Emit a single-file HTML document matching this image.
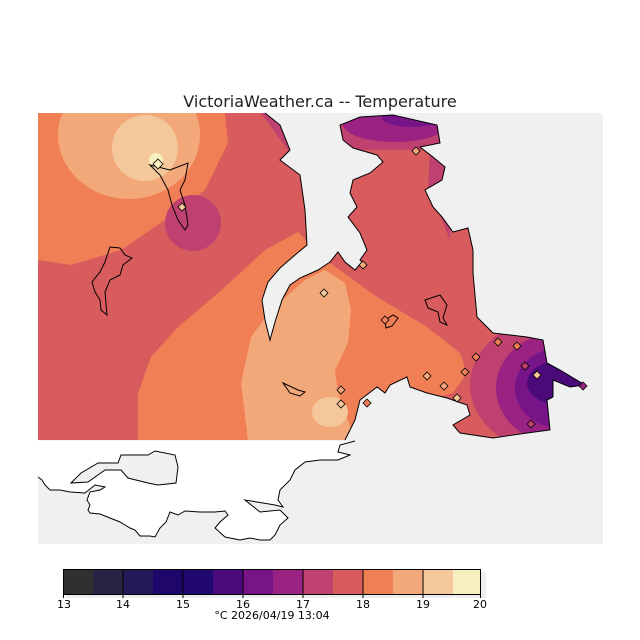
<!DOCTYPE html>
<html><head><meta charset="utf-8"><style>
html,body{margin:0;padding:0;background:#fff;}
svg{display:block;font-family:"DejaVu Sans","Liberation Sans",sans-serif;}
</style></head><body>
<svg width="640" height="640" viewBox="0 0 640 640" xmlns="http://www.w3.org/2000/svg">
<defs>
<clipPath id="land"><path d="M38,113 L265,113 L280,125 L290,150 L280,160 L300,175 L305,210 L307,245 L295,255 L280,268 L268,282 L262,300 L265,320 L270,340 L275,322 L282,300 L290,285 L300,278 L318,270 L330,262 L338,252 L345,262 L355,270 L362,262 L360,260 L367,250 L360,233 L348,217 L357,207 L350,193 L353,180 L370,173 L383,162 L377,155 L353,148 L343,140 L340,125 L360,117 L393,115 L437,125 L440,143 L420,147 L433,157 L445,167 L442,180 L425,190 L433,207 L442,217 L453,232 L468,228 L473,250 L473,273 L477,317 L493,333 L527,337 L543,340 L547,363 L560,370 L585,385 L570,387 L553,380 L553,397 L547,400 L550,430 L527,433 L493,438 L460,433 L453,425 L470,415 L467,405 L447,398 L427,393 L410,387 L407,377 L390,385 L385,393 L377,387 L360,400 L355,420 L345,440 L38,440 Z"/></clipPath>
</defs>
<rect x="38" y="113" width="565" height="431" fill="#f0f0f0"/>
<g clip-path="url(#land)">
<rect x="38" y="113" width="565" height="331" fill="#d85b5d"/>
<path d="M38,113 L225,113 L228,143 L205,190 L165,220 L121,250 L71,265 L38,260 Z" fill="#f07f55"/>
<ellipse cx="129" cy="135" rx="71" ry="64" fill="#f3a87a"/>
<circle cx="145" cy="148" r="33" fill="#f5c89b"/>
<circle cx="156" cy="160" r="7" fill="#f6efc0"/>
<circle cx="193" cy="223" r="28" fill="#bf416f"/>
<path d="M261,113 L295,113 L295,160 Z" fill="#bf416f"/>
<path d="M138,440 L138,393 L151,357 L178,327 L225,287 L265,250 L298,232 L323,258 L377,297 L427,327 L460,353 L467,373 L453,393 L420,402 L400,400 L370,400 L355,440 Z" fill="#f07f55"/>
<path d="M248,440 L241,383 L251,337 L271,310 L305,280 L325,270 L345,283 L351,310 L348,343 L335,370 L338,393 L355,440 Z" fill="#f3a87a"/>
<ellipse cx="330" cy="412" rx="18" ry="15" fill="#f5c89b"/>
<path d="M330,113 L450,113 L445,140 L420,150 L380,150 L340,150 Z" fill="#bf416f"/>
<ellipse cx="395" cy="124" rx="52" ry="18" fill="#9a2283"/>
<ellipse cx="412" cy="118" rx="30" ry="9" fill="#761488"/>
<ellipse cx="420" cy="115" rx="15" ry="4" fill="#4a0a7a"/>
<path d="M430,150 L450,150 L450,240 L440,215 L428,190 Z" fill="#bf416f"/>
<ellipse cx="560" cy="385" rx="90" ry="70" fill="#bf416f"/>
<ellipse cx="560" cy="388" rx="64" ry="56" fill="#9a2283"/>
<ellipse cx="560" cy="388" rx="45" ry="40" fill="#761488"/>
<ellipse cx="560" cy="383" rx="33" ry="22" fill="#4a0a7a"/>
</g>
<path d="M265,113 L280,125 L290,150 L280,160 L300,175 L305,210 L307,245 L295,255 L280,268 L268,282 L262,300 L265,320 L270,340 L275,322 L282,300 L290,285 L300,278 L318,270 L330,262 L338,252 L345,262 L355,270 L362,262 L360,260 L367,250 L360,233 L348,217 L357,207 L350,193 L353,180 L370,173 L383,162 L377,155 L353,148 L343,140 L340,125 L360,117 L393,115 L437,125 L440,143 L420,147 L433,157 L445,167 L442,180 L425,190 L433,207 L442,217 L453,232 L468,228 L473,250 L473,273 L477,317 L493,333 L527,337 L543,340 L547,363 L560,370 L585,385 L570,387 L553,380 L553,397 L547,400 L550,430 L527,433 L493,438 L460,433 L453,425 L470,415 L467,405 L447,398 L427,393 L410,387 L407,377 L390,385 L385,393 L377,387 L360,400 L355,420 L345,440" fill="none" stroke="#000" stroke-width="1"/>
<path d="M38,441 L355,441 L340,445 L338,452 L350,455 L338,460 L320,460 L305,462 L295,470 L290,480 L280,490 L278,500 L283,507 L275,505 L245,500 L260,512 L280,510 L288,518 L280,525 L275,535 L270,540 L260,540 L250,538 L240,540 L225,537 L215,528 L220,522 L228,515 L225,511 L215,512 L200,512 L185,511 L178,515 L170,512 L166,522 L160,528 L155,537 L150,536 L140,536 L135,530 L130,528 L120,522 L110,518 L100,514 L90,513 L88,510 L90,505 L87,500 L90,492 L100,490 L105,487 L95,485 L85,493 L70,492 L60,490 L50,490 L45,485 L42,480 L38,477 Z" fill="#fff" stroke="none"/>
<path d="M355,441 L340,445 L338,452 L350,455 L338,460 L320,460 L305,462 L295,470 L290,480 L280,490 L278,500 L283,507 L275,505 L245,500 L260,512 L280,510 L288,518 L280,525 L275,535 L270,540 L260,540 L250,538 L240,540 L225,537 L215,528 L220,522 L228,515 L225,511 L215,512 L200,512 L185,511 L178,515 L170,512 L166,522 L160,528 L155,537 L150,536 L140,536 L135,530 L130,528 L120,522 L110,518 L100,514 L90,513 L88,510 L90,505 L87,500 L90,492 L100,490 L105,487 L95,485 L85,493 L70,492 L60,490 L50,490 L45,485 L42,480 L38,477" fill="none" stroke="#000"/>
<path d="M71,483 L81,473 L98,463 L118,463 L121,455 L148,455 L155,451 L175,455 L178,467 L176,483 L158,485 L148,483 L128,478 L121,470 L105,470 L88,482 Z" fill="#f0f0f0" stroke="#000"/>
<path d="M110,247 L120,248 L125,255 L132,258 L123,265 L120,275 L110,280 L105,292 L107,315 L101,310 L100,300 L95,292 L92,282 L100,272 L105,262 Z" fill="none" stroke="#000"/>
<path d="M283,383 L298,390 L305,392 L300,396 L290,393 Z" fill="none" stroke="#000"/>
<path d="M150,165 L170,170 L188,163 L185,180 L180,190 L185,205 L188,225 L185,230 L178,220 L172,205 L168,190 L160,175 Z" fill="none" stroke="#000"/>
<path d="M425,300 L440,295 L447,305 L443,318 L447,325 L440,322 L438,312 L428,308 Z" fill="none" stroke="#000"/>
<path d="M385,320 L393,315 L398,318 L392,326 L386,328 Z" fill="none" stroke="#000"/>
<g stroke="#000" stroke-width="0.8">
<path d="M158,159 l5,5 -5,5 -5,-5z" fill="#f6efc0"/>
<path d="M182,203 l4,4 -4,4 -4,-4z" fill="#f5c89b"/>
<path d="M416,147 l4,4 -4,4 -4,-4z" fill="#f3a87a"/>
<path d="M363,261 l4,4 -4,4 -4,-4z" fill="#f3a87a"/>
<path d="M324,289 l4,4 -4,4 -4,-4z" fill="#f5c89b"/>
<path d="M385,316 l4,4 -4,4 -4,-4z" fill="#f07f55"/>
<path d="M476,353 l4,4 -4,4 -4,-4z" fill="#f07f55"/>
<path d="M498,338 l4,4 -4,4 -4,-4z" fill="#f07f55"/>
<path d="M517,342 l4,4 -4,4 -4,-4z" fill="#f07f55"/>
<path d="M525,362 l4,4 -4,4 -4,-4z" fill="#bf416f"/>
<path d="M537,371 l4,4 -4,4 -4,-4z" fill="#f5c89b"/>
<path d="M583,382 l4,4 -4,4 -4,-4z" fill="#9a2283"/>
<path d="M465,368 l4,4 -4,4 -4,-4z" fill="#f07f55"/>
<path d="M427,372 l4,4 -4,4 -4,-4z" fill="#f3a87a"/>
<path d="M444,382 l4,4 -4,4 -4,-4z" fill="#f3a87a"/>
<path d="M457,394 l4,4 -4,4 -4,-4z" fill="#f5c89b"/>
<path d="M367,399 l4,4 -4,4 -4,-4z" fill="#f07f55"/>
<path d="M341,386 l4,4 -4,4 -4,-4z" fill="#f3a87a"/>
<path d="M341,400 l4,4 -4,4 -4,-4z" fill="#f5c89b"/>
<path d="M531,420 l4,4 -4,4 -4,-4z" fill="#bf416f"/>
</g>
<text x="320" y="107" font-size="16" text-anchor="middle" fill="#222">VictoriaWeather.ca -- Temperature</text>
<rect x="66" y="572" width="420" height="26" fill="#eee"/>
<g stroke="none">
<rect x="63" y="569" width="30" height="26" fill="#303030"/>
<rect x="93" y="569" width="30" height="26" fill="#2a2444"/>
<rect x="123" y="569" width="30" height="26" fill="#251a58"/>
<rect x="153" y="569" width="30" height="26" fill="#1e066a"/>
<rect x="183" y="569" width="30" height="26" fill="#200870"/>
<rect x="213" y="569" width="30" height="26" fill="#4a0a7a"/>
<rect x="243" y="569" width="30" height="26" fill="#761488"/>
<rect x="273" y="569" width="30" height="26" fill="#9a2283"/>
<rect x="303" y="569" width="30" height="26" fill="#bf416f"/>
<rect x="333" y="569" width="30" height="26" fill="#d85b5d"/>
<rect x="363" y="569" width="30" height="26" fill="#f07f55"/>
<rect x="393" y="569" width="30" height="26" fill="#f3a87a"/>
<rect x="423" y="569" width="30" height="26" fill="#f5c89b"/>
<rect x="453" y="569" width="28" height="26" fill="#f6efc0"/>
</g>
<rect x="63.5" y="569.5" width="417" height="25" fill="none" stroke="#000"/>
<g stroke="#000">
<path d="M123,569V598M183,569V598M243,569V598M303,569V598M363,569V598M423,569V598M63.5,594V598M480.5,594V598"/>
</g>
<g font-size="11" text-anchor="middle" fill="#000">
<text x="64" y="608">13</text><text x="123" y="608">14</text><text x="183" y="608">15</text><text x="243" y="608">16</text><text x="303" y="608">17</text><text x="363" y="608">18</text><text x="423" y="608">19</text><text x="480" y="608">20</text>
<text x="272" y="619">°C  2026/04/19 13:04</text>
</g>
</svg>
</body></html>
